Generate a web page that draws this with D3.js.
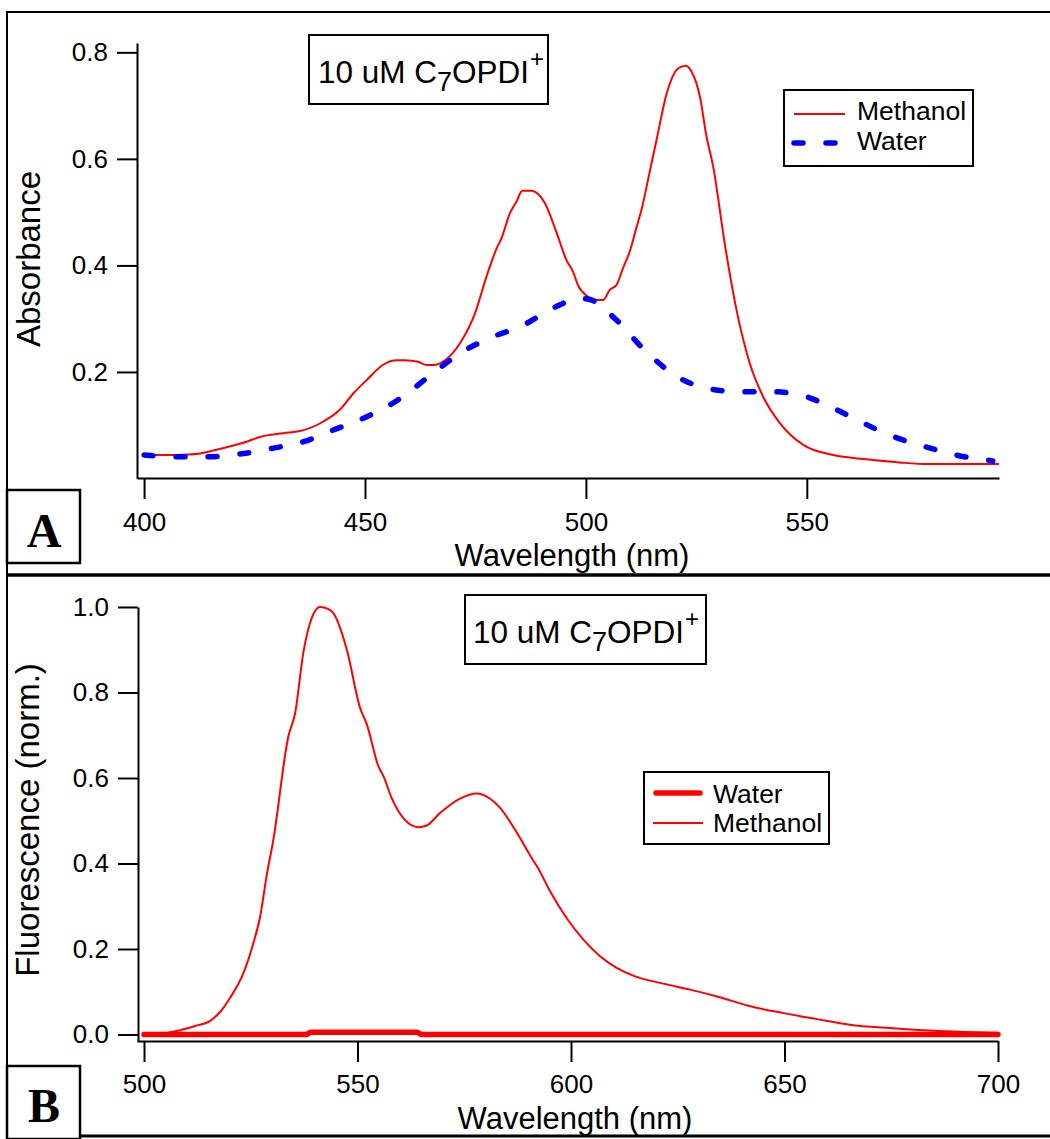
<!DOCTYPE html>
<html>
<head>
<meta charset="utf-8">
<script src="https://cdn.jsdelivr.net/npm/d3@7"></script>
<style>
  body { margin: 0; background: #fff; }
  svg { display: block; }
  text { font-family: "Liberation Sans", Arial, sans-serif; fill: #000; }
</style>
</head>
<body>
<svg id="fig" width="1050" height="1139"></svg>
<script>
// ---- Panel A: absorbance spectra, [wavelength nm, absorbance] ----
const absMethanol = [
  [400,0.044],[405,0.044],[410,0.045],[412.7,0.047],[416.4,0.054],[420.2,0.062],
  [423.2,0.069],[426.2,0.078],[431.5,0.085],[435.3,0.089],[440.6,0.107],[444.3,0.129],
  [447.4,0.160],[450.4,0.185],[454.2,0.214],[457.2,0.222],[459,0.222],[462,0.219],
  [464,0.213],[465.5,0.213],[468.1,0.222],[471.5,0.254],[474.9,0.310],[477.5,0.379],
  [479.8,0.432],[480.9,0.451],[482.8,0.498],[484.3,0.520],[485.6,0.540],[487.6,0.540],
  [490.7,0.517],[493.3,0.463],[495.6,0.410],[497.1,0.388],[498.2,0.363],[500.5,0.341],
  [501.6,0.335],[503.9,0.335],[505.4,0.354],[506.9,0.363],[508.4,0.395],[510,0.428],
  [511.4,0.470],[512.6,0.505],[514.3,0.570],[516,0.636],[518.3,0.723],[520.9,0.770],
  [522.6,0.775],[523.9,0.764],[525.8,0.717],[527.3,0.642],[528.8,0.586],[531.4,0.442],
  [534.1,0.316],[537.1,0.216],[540.1,0.154],[543.9,0.104],[549.2,0.063],[556,0.044],
  [563.5,0.036],[571,0.030],[577.5,0.027],[593.5,0.027]
];
const absWater = [
  [400,0.044],[408,0.041],[415,0.041],[422.5,0.047],[429.3,0.057],[436.1,0.069],
  [442.5,0.090],[450.4,0.116],[457.2,0.146],[464.4,0.191],[471.5,0.235],[478.6,0.265],
  [485.4,0.286],[492.6,0.320],[498.6,0.338],[500.9,0.336],[506.6,0.300],[513.3,0.241],
  [520.3,0.193],[527.5,0.169],[534.8,0.163],[541.6,0.163],[548.4,0.157],[556,0.132],
  [562.8,0.104],[569.5,0.079],[576.7,0.060],[583.8,0.044],[592.1,0.033]
];
const absXTicks = [400, 450, 500, 550];
const absYTicks = [0.2, 0.4, 0.6, 0.8];

// ---- Panel B: normalised fluorescence, [wavelength nm, intensity] ----
const fluMethanol = [
  [500,0.000],[505,0.003],[508.4,0.010],[512,0.020],[515.5,0.032],[518,0.055],
  [520.1,0.085],[523.3,0.144],[525.5,0.210],[527.2,0.276],[528.7,0.370],[530.3,0.456],
  [533.8,0.697],[535.4,0.752],[537.3,0.892],[538.9,0.963],[541.2,1.000],
  [543.2,0.995],[544.3,0.986],[547.5,0.900],[550.6,0.764],[552.2,0.725],[554.9,0.627],
  [556.1,0.604],[558,0.553],[561.1,0.502],[564.2,0.485],[566.2,0.489],[569.3,0.518],
  [574,0.552],[577.9,0.564],[581,0.552],[583.4,0.530],[586.9,0.479],[590.8,0.413],
  [592.3,0.389],[595.1,0.335],[599,0.272],[602.9,0.222],[606.8,0.183],[610.7,0.156],
  [615,0.136],[621.6,0.119],[627.9,0.105],[634.2,0.089],[642,0.066],[649.8,0.050],
  [657.6,0.036],[665.3,0.023],[674.7,0.015],[682.5,0.010],[700,0.004]
];
const fluWater = [
  [500,0.000],[538,0.000],[539,0.005],[564,0.005],[565,0.000],[700,0.000]
];
const fluXTicks = [500, 550, 600, 650, 700];
const fluYTicks = [0.0, 0.2, 0.4, 0.6, 0.8, 1.0];

const RED = "#ff0000", BLUE = "#0000ff";
const svg = d3.select("#fig");
svg.append("rect").attr("width", 1050).attr("height", 1139).attr("fill", "#fff");

// outer frame and panel separators
const frame = svg.append("g").attr("stroke", "#000").attr("fill", "none");
frame.append("line").attr("x1", 7).attr("y1", 12).attr("x2", 1050).attr("y2", 12).attr("stroke-width", 2);
frame.append("line").attr("x1", 7).attr("y1", 11).attr("x2", 7).attr("y2", 1137).attr("stroke-width", 2);
frame.append("line").attr("x1", 7).attr("y1", 575).attr("x2", 1050).attr("y2", 575).attr("stroke-width", 3.5);
frame.append("line").attr("x1", 7).attr("y1", 1136).attr("x2", 1050).attr("y2", 1136).attr("stroke-width", 3);

function styleAxis(g, fs) {
  g.select(".domain").attr("stroke", "#000").attr("stroke-width", 2);
  g.selectAll(".tick line").attr("stroke", "#000").attr("stroke-width", 2);
  g.selectAll(".tick text").attr("font-size", fs)
    .attr("font-family", '"Liberation Sans", Arial, sans-serif').attr("fill", "#000");
}

function titleBox(x, y, w, h, tx, ty) {
  svg.append("rect").attr("x", x).attr("y", y).attr("width", w).attr("height", h)
    .attr("fill", "#fff").attr("stroke", "#000").attr("stroke-width", 2);
  const t = svg.append("text").attr("x", tx).attr("y", ty).attr("font-size", 31.5);
  t.append("tspan").text("10 uM C");
  t.append("tspan").attr("font-size", 27).attr("dy", 8).text("7");
  t.append("tspan").attr("dy", -8).text("OPDI");
  t.append("tspan").attr("font-size", 24).attr("dx", 1).attr("dy", -16).text("+");
}

function panelLetter(y, letter, baseline) {
  svg.append("rect").attr("x", 7).attr("y", y).attr("width", 73).attr("height", 73)
    .attr("fill", "#fff").attr("stroke", "#000").attr("stroke-width", 2.5);
  svg.append("text").attr("x", 44).attr("y", baseline).attr("text-anchor", "middle")
    .style("font-family", '"Liberation Serif", "Times New Roman", serif')
    .attr("font-weight", "bold").attr("font-size", 48).text(letter);
}

// ================= Panel A =================
const xA = d3.scaleLinear().domain([398.4, 593.5]).range([137, 999]);
const yA = d3.scaleLinear().domain([0, 0.8175]).range([478.5, 43]);

const gxA = svg.append("g").attr("transform", "translate(0,478)")
  .call(d3.axisBottom(xA).tickValues(absXTicks).tickSize(21).tickSizeOuter(0).tickPadding(14).tickFormat(d3.format("d")));
styleAxis(gxA, 26);
const gyA = svg.append("g").attr("transform", "translate(137,0)")
  .call(d3.axisLeft(yA).tickValues(absYTicks).tickSize(20).tickSizeOuter(0).tickPadding(9).tickFormat(d3.format(".1f")));
styleAxis(gyA, 26);

const lineA = d3.line().x(d => xA(d[0])).y(d => yA(d[1])).curve(d3.curveMonotoneX);
svg.append("path").datum(absMethanol).attr("d", lineA)
  .attr("fill", "none").attr("stroke", RED).attr("stroke-width", 2);
svg.append("path").datum(absWater).attr("d", lineA)
  .attr("fill", "none").attr("stroke", BLUE).attr("stroke-width", 5.5)
  .attr("stroke-dasharray", "9 23").attr("stroke-linecap", "round");

svg.append("text").attr("transform", "translate(40,259) rotate(-90)")
  .attr("text-anchor", "middle").attr("font-size", 33).text("Absorbance");
svg.append("text").attr("x", 572).attr("y", 566)
  .attr("text-anchor", "middle").attr("font-size", 31).text("Wavelength (nm)");

titleBox(309, 35, 239, 69, 318, 83);

// legend A
svg.append("rect").attr("x", 784).attr("y", 90).attr("width", 189).attr("height", 76)
  .attr("fill", "#fff").attr("stroke", "#000").attr("stroke-width", 2);
svg.append("line").attr("x1", 794).attr("y1", 114).attr("x2", 845).attr("y2", 114)
  .attr("stroke", RED).attr("stroke-width", 2);
svg.append("line").attr("x1", 794).attr("y1", 143).attr("x2", 840).attr("y2", 143)
  .attr("stroke", BLUE).attr("stroke-width", 5.5).attr("stroke-dasharray", "9 23")
  .attr("stroke-linecap", "round");
svg.append("text").attr("x", 857).attr("y", 120).attr("font-size", 26.5).text("Methanol");
svg.append("text").attr("x", 857).attr("y", 150).attr("font-size", 26.5).text("Water");

panelLetter(490, "A", 547);

// ================= Panel B =================
const xB = d3.scaleLinear().domain([498.36, 700]).range([137, 998]);
const yB = d3.scaleLinear().domain([-0.0152, 1.0]).range([1041, 607]);

const gxB = svg.append("g").attr("transform", "translate(0,1041)")
  .call(d3.axisBottom(xB).tickValues(fluXTicks).tickSize(21).tickSizeOuter(0).tickPadding(13).tickFormat(d3.format("d")));
styleAxis(gxB, 26);
const gyB = svg.append("g").attr("transform", "translate(138,0)")
  .call(d3.axisLeft(yB).tickValues(fluYTicks).tickSize(20).tickSizeOuter(0).tickPadding(9).tickFormat(d3.format(".1f")));
styleAxis(gyB, 26);

const lineB = d3.line().x(d => xB(d[0])).y(d => yB(d[1])).curve(d3.curveMonotoneX);
svg.append("path").datum(fluMethanol).attr("d", lineB)
  .attr("fill", "none").attr("stroke", RED).attr("stroke-width", 2);
svg.append("path").datum(fluWater).attr("d", lineB)
  .attr("fill", "none").attr("stroke", RED).attr("stroke-width", 5.5)
  .attr("stroke-linecap", "round").attr("stroke-linejoin", "round");

svg.append("text").attr("transform", "translate(39,820) rotate(-90)")
  .attr("text-anchor", "middle").attr("font-size", 33).text("Fluorescence (norm.)");
svg.append("text").attr("x", 575).attr("y", 1129)
  .attr("text-anchor", "middle").attr("font-size", 31).text("Wavelength (nm)");

titleBox(465, 595, 241, 69, 473, 643);

// legend B
svg.append("rect").attr("x", 644).attr("y", 772).attr("width", 185).attr("height", 72)
  .attr("fill", "#fff").attr("stroke", "#000").attr("stroke-width", 2);
svg.append("line").attr("x1", 656).attr("y1", 793).attr("x2", 700).attr("y2", 793)
  .attr("stroke", RED).attr("stroke-width", 5.5).attr("stroke-linecap", "round");
svg.append("line").attr("x1", 653).attr("y1", 823).attr("x2", 703).attr("y2", 823)
  .attr("stroke", RED).attr("stroke-width", 2);
svg.append("text").attr("x", 713).attr("y", 803).attr("font-size", 26.5).text("Water");
svg.append("text").attr("x", 713).attr("y", 832).attr("font-size", 26.5).text("Methanol");

panelLetter(1066, "B", 1122);
</script>
</body>
</html>
